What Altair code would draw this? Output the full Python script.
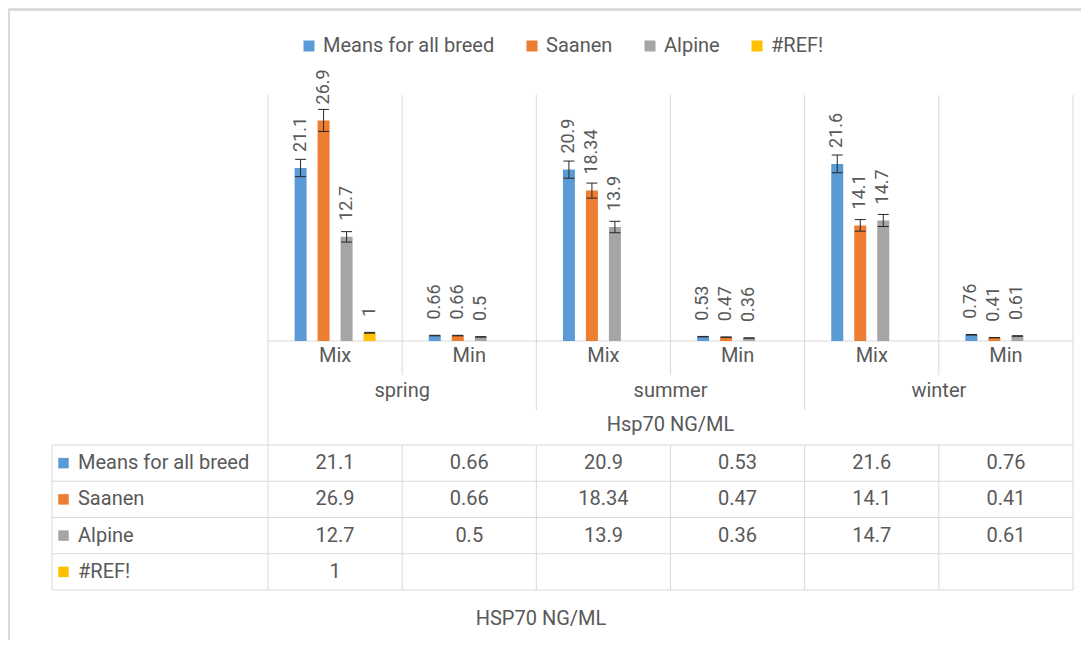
import altair as alt
import pandas as pd

# ---------------- data ----------------
seasons = ["spring", "summer", "winter"]
kinds = ["Mix", "Min"]
series = ["Means for all breed", "Saanen", "Alpine", "#REF!"]
means_all = [21.1, 0.66, 20.9, 0.53, 21.6, 0.76]
saanen = [26.9, 0.66, 18.34, 0.47, 14.1, 0.41]
alpine = [12.7, 0.5, 13.9, 0.36, 14.7, 0.61]
ref_err = [1, None, None, None, None, None]
error_pct = 0.05
axis_title = "Hsp70 NG/ML"
table_title = "HSP70 NG/ML"
colors = ["#5B9BD5", "#ED7D31", "#A5A5A5", "#FFC000"]

# ---------------- style ----------------
FONT = "Roboto"
TXT = "#595959"
GRID = "#D9D9D9"
FS = 20
UNIT = 134.17            # px per category column
TABLE_LEFT = -1.61       # table header column start (column units)

XS = alt.Scale(domain=[TABLE_LEFT, 6], range=[44, 1065], nice=False, zero=False)
YB = alt.Scale(domain=[0, 30], range=[333, 87], nice=False, zero=False)
YT = alt.Scale(domain=[0, 4], range=[437, 582], nice=False, zero=False)
CS = alt.Scale(domain=series, range=colors)

all_vals = [means_all, saanen, alpine, ref_err]
columns = [(s, k) for s in seasons for k in kinds]

bar_rows, cell_rows = [], []
for si, name in enumerate(series):
    for ci, v in enumerate(all_vals[si]):
        cell_rows.append({"series": name, "xc": ci + 0.5, "row": si + 0.5,
                          "txt": "" if v is None else f"{v:g}"})
        if v is None:
            continue
        cx = ci + 0.5 + (si - 1.5) * 23 / UNIT
        bar_rows.append({
            "series": name, "value": v, "base": 0, "label": f"{v:g}",
            "cx": cx, "x0": cx - 6 / UNIT, "x1": cx + 6 / UNIT,
            "c0": cx - 5.5 / UNIT, "c1": cx + 5.5 / UNIT,
            "lo": v * (1 - error_pct), "hi": v * (1 + error_pct),
        })
bars_df = pd.DataFrame(bar_rows)
cells_df = pd.DataFrame(cell_rows)

X = lambda f: alt.X(f, type="quantitative", scale=XS, axis=None)
X2 = lambda f: alt.X2(f)

legend = alt.Legend(orient="none", legendX=291, legendY=28, direction="horizontal",
                    title=None, symbolType="square", symbolSize=121, symbolStrokeWidth=0,
                    labelFontSize=FS, labelFont=FONT, labelColor=TXT, labelOffset=4,
                    labelLimit=0, columnPadding=27, padding=0)

bars = alt.Chart(bars_df).mark_bar().encode(
    x=X("x0"), x2=X2("x1"),
    y=alt.Y("value:Q", scale=YB, axis=None, stack=None), y2=alt.Y2("base"),
    color=alt.Color("series:N", scale=CS, legend=legend),
)
err = alt.Chart(bars_df).mark_rule(color="#262626", strokeWidth=1).encode(
    x=X("cx"), y=alt.Y("lo:Q", scale=YB, axis=None), y2=alt.Y2("hi"))
cap_hi = alt.Chart(bars_df).mark_rule(color="#262626", strokeWidth=1).encode(
    x=X("c0"), x2=X2("c1"), y=alt.Y("hi:Q", scale=YB, axis=None))
cap_lo = alt.Chart(bars_df).mark_rule(color="#262626", strokeWidth=1).encode(
    x=X("c0"), x2=X2("c1"), y=alt.Y("lo:Q", scale=YB, axis=None))
labels = alt.Chart(bars_df).mark_text(angle=270, align="left", baseline="middle", dx=16,
                                      fontSize=18, font=FONT, color=TXT).encode(
    x=X("cx"), y=alt.Y("value:Q", scale=YB, axis=None), text="label:N")

# plot grid
grid_df = pd.DataFrame({"gx": list(range(7)), "g0": [0] * 7, "g1": [30] * 7})
grid = alt.Chart(grid_df).mark_rule(color=GRID, strokeWidth=1).encode(
    x=X("gx"), y=alt.Y("g0:Q", scale=YB, axis=None), y2=alt.Y2("g1"))
base_df = pd.DataFrame({"a": [0], "b": [6], "y": [0]})
baseline = alt.Chart(base_df).mark_rule(color=GRID, strokeWidth=1).encode(
    x=X("a"), x2=X2("b"), y=alt.Y("y:Q", scale=YB, axis=None))

# category axis separators below the plot
sep_outer = alt.Chart(pd.DataFrame({"sx": [0, 6]})).mark_rule(color=GRID).encode(
    x=X("sx"), y=alt.value(333), y2=alt.value(437))
sep_season = alt.Chart(pd.DataFrame({"sx": [2, 4]})).mark_rule(color=GRID).encode(
    x=X("sx"), y=alt.value(333), y2=alt.value(402))
sep_kind = alt.Chart(pd.DataFrame({"sx": [1, 3, 5]})).mark_rule(color=GRID).encode(
    x=X("sx"), y=alt.value(333), y2=alt.value(367))

kind_df = pd.DataFrame({"kx": [i + 0.5 for i in range(6)], "k": [k for _, k in columns]})
kind_txt = alt.Chart(kind_df).mark_text(fontSize=FS, font=FONT, color=TXT, baseline="middle").encode(
    x=X("kx"), y=alt.value(348), text="k:N")
season_df = pd.DataFrame({"sx": [1, 3, 5], "s": seasons})
season_txt = alt.Chart(season_df).mark_text(fontSize=FS, font=FONT, color=TXT, baseline="middle").encode(
    x=X("sx"), y=alt.value(383), text="s:N")
title_txt = alt.Chart(pd.DataFrame({"tx": [3], "t": [axis_title]})).mark_text(
    fontSize=FS, font=FONT, color=TXT, baseline="middle").encode(
    x=X("tx"), y=alt.value(417), text="t:N")

# data table
hl_df = pd.DataFrame({"r": [0, 1, 2, 3, 4], "a": [TABLE_LEFT] * 5, "b": [6] * 5})
hlines = alt.Chart(hl_df).mark_rule(color=GRID).encode(
    x=X("a"), x2=X2("b"), y=alt.Y("r:Q", scale=YT, axis=None))
vl_df = pd.DataFrame({"vx": [TABLE_LEFT] + list(range(7)), "r0": [0] * 8, "r1": [4] * 8})
vlines = alt.Chart(vl_df).mark_rule(color=GRID).encode(
    x=X("vx"), y=alt.Y("r0:Q", scale=YT, axis=None), y2=alt.Y2("r1"))
cells = alt.Chart(cells_df).mark_text(fontSize=FS, font=FONT, color=TXT, baseline="middle").encode(
    x=X("xc"), y=alt.Y("row:Q", scale=YT, axis=None), text="txt:N")
head_df = pd.DataFrame({"series": series, "row": [i + 0.5 for i in range(4)],
                        "sq": [TABLE_LEFT + 11.5 / UNIT] * 4, "tx": [TABLE_LEFT + 26 / UNIT] * 4})
head_sq = alt.Chart(head_df).mark_square(size=110, opacity=1).encode(
    x=X("sq"), y=alt.Y("row:Q", scale=YT, axis=None),
    fill=alt.Fill("series:N", scale=CS, legend=None))
head_txt = alt.Chart(head_df).mark_text(fontSize=FS, font=FONT, color=TXT, baseline="middle",
                                        align="left").encode(
    x=X("tx"), y=alt.Y("row:Q", scale=YT, axis=None), text="series:N")
tbl_title = alt.Chart(pd.DataFrame({"t": [table_title]})).mark_text(
    fontSize=FS, font=FONT, color=TXT, baseline="middle").encode(
    x=alt.value(533), y=alt.value(611), text="t:N")

# outer frame (left and top edges)
frame_l = alt.Chart(pd.DataFrame({"d": [0]})).mark_rule(color=GRID, strokeWidth=2).encode(
    x=alt.value(1), y=alt.value(2), y2=alt.value(632))
frame_t = alt.Chart(pd.DataFrame({"d": [0]})).mark_rule(color=GRID, strokeWidth=2).encode(
    x=alt.value(0), x2=alt.value(1073), y=alt.value(2))

chart = alt.layer(
    frame_l, frame_t, grid, baseline, sep_outer, sep_season, sep_kind,
    hlines, vlines,
    bars, err, cap_hi, cap_lo, labels,
    kind_txt, season_txt, title_txt, cells, head_sq, head_txt, tbl_title,
).resolve_scale(y="independent").properties(
    width=1073, height=632, autosize=alt.AutoSizeParams(type="none"), padding=0,
).configure_view(stroke=None).configure(background="white")

chart.save("out.html", embed_options={"renderer": "svg", "actions": False})
